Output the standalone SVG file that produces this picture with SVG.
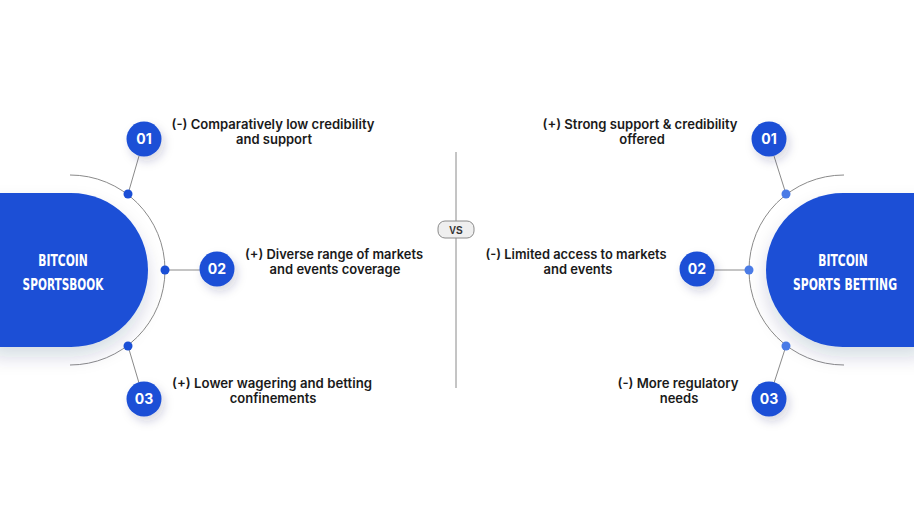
<svg xmlns="http://www.w3.org/2000/svg" width="914" height="521" viewBox="0 0 914 521">
<defs>
<filter id="sh" x="-50%" y="-50%" width="200%" height="200%">
<feDropShadow dx="3" dy="5" stdDeviation="5" flood-color="#1a2a5a" flood-opacity="0.18"/>
</filter>
<filter id="shb" x="-30%" y="-30%" width="160%" height="180%">
<feDropShadow dx="0" dy="10" stdDeviation="9" flood-color="#1a2a5a" flood-opacity="0.16"/>
</filter>
<style>
.blue{fill:#1b4fd6}
.arc{fill:none;stroke:#8a8a8a;stroke-width:1}
.conn{stroke:#8a8a8a;stroke-width:1;fill:none}
.dot{fill:#1b4fd6}
.dotr{fill:#4a7be6}
.num{font-family:Inter,"Liberation Sans",sans-serif;font-weight:700;font-size:14px;fill:#fff;text-anchor:middle}
.lbl{font-family:Inter,"Liberation Sans",sans-serif;font-weight:600;font-size:13px;fill:#1a1a1a;text-anchor:middle}
.title{font-family:"DejaVu Sans Condensed","DejaVu Sans",sans-serif;font-weight:700;font-size:16px;fill:#fff;text-anchor:middle}
.vs{font-family:"Liberation Sans",sans-serif;font-weight:700;font-size:10px;fill:#333;text-anchor:middle}
</style>
</defs>
<rect width="914" height="521" fill="#fff"/>

<g id="divider">
<line x1="456" y1="152" x2="456" y2="388" stroke="#8a8a8a" stroke-width="1"/>
<rect x="438" y="221" width="36" height="17" rx="7" fill="#efefef" stroke="#8a8a8a" stroke-width="1"/>
<text class="vs" x="456" y="233.5">VS</text>
</g>

<g id="connectors">
<path class="arc" d="M70,175 A95,95 0 0 1 70,365"/>
<path class="arc" d="M844,175 A95,95 0 0 0 844,365"/>
<line class="conn" x1="128" y1="194" x2="139" y2="156"/>
<line class="conn" x1="165" y1="270" x2="200" y2="270"/>
<line class="conn" x1="128" y1="346" x2="139" y2="383"/>
<line class="conn" x1="786" y1="194" x2="774" y2="156"/>
<line class="conn" x1="749" y1="270" x2="714" y2="270"/>
<line class="conn" x1="786" y1="346" x2="774" y2="383"/>
</g>

<g id="left-main">
<path class="blue" filter="url(#shb)" d="M-10,193 H71 A77,77 0 0 1 71,347 H-10 Z"/>
<text class="title" transform="translate(63,266) scale(0.8,1)" x="0" y="0" textLength="62" lengthAdjust="spacingAndGlyphs">BITCOIN</text>
<text class="title" transform="translate(63,290) scale(0.8,1)" x="0" y="0" textLength="101" lengthAdjust="spacingAndGlyphs">SPORTSBOOK</text>
</g>
<g id="right-main">
<path class="blue" filter="url(#shb)" d="M924,193 H843 A77,77 0 0 0 843,347 H924 Z"/>
<text class="title" transform="translate(843,266) scale(0.8,1)" x="0" y="0" textLength="62" lengthAdjust="spacingAndGlyphs">BITCOIN</text>
<text class="title" transform="translate(845,290) scale(0.8,1)" x="0" y="0" textLength="130" lengthAdjust="spacingAndGlyphs">SPORTS BETTING</text>
</g>

<g id="dots">
<circle class="dot" cx="128" cy="194" r="4.5"/>
<circle class="dot" cx="165" cy="270" r="4.5"/>
<circle class="dot" cx="128" cy="346" r="4.5"/>
<circle class="dotr" cx="786" cy="194" r="4.5"/>
<circle class="dotr" cx="749" cy="270" r="4.5"/>
<circle class="dotr" cx="786" cy="346" r="4.5"/>
</g>

<g id="l01">
<circle class="blue" filter="url(#sh)" cx="144" cy="139" r="17.5"/>
<text class="num" x="144" y="144">01</text>
<text class="lbl" x="273" y="129" textLength="203" lengthAdjust="spacingAndGlyphs">(-) Comparatively low credibility</text>
<text class="lbl" x="274" y="144">and support</text>
</g>
<g id="l02">
<circle class="blue" filter="url(#sh)" cx="217" cy="269" r="17.5"/>
<text class="num" x="217" y="274">02</text>
<text class="lbl" x="334" y="259" textLength="178" lengthAdjust="spacingAndGlyphs">(+) Diverse range of markets</text>
<text class="lbl" x="335" y="274">and events coverage</text>
</g>
<g id="l03">
<circle class="blue" filter="url(#sh)" cx="144" cy="399" r="17.5"/>
<text class="num" x="144" y="404">03</text>
<text class="lbl" x="272" y="388" textLength="200" lengthAdjust="spacingAndGlyphs">(+) Lower wagering and betting</text>
<text class="lbl" x="273" y="403">confinements</text>
</g>
<g id="r01">
<circle class="blue" filter="url(#sh)" cx="769" cy="139" r="17.5"/>
<text class="num" x="769" y="144">01</text>
<text class="lbl" x="640" y="129" textLength="195" lengthAdjust="spacingAndGlyphs">(+) Strong support &amp; credibility</text>
<text class="lbl" x="642" y="144">offered</text>
</g>
<g id="r02">
<circle class="blue" filter="url(#sh)" cx="697" cy="269" r="17.5"/>
<text class="num" x="697" y="274">02</text>
<text class="lbl" x="576" y="259" textLength="181" lengthAdjust="spacingAndGlyphs">(-) Limited access to markets</text>
<text class="lbl" x="578" y="274">and events</text>
</g>
<g id="r03">
<circle class="blue" filter="url(#sh)" cx="769" cy="399" r="17.5"/>
<text class="num" x="769" y="404">03</text>
<text class="lbl" x="678" y="388" textLength="121" lengthAdjust="spacingAndGlyphs">(-) More regulatory</text>
<text class="lbl" x="679" y="403">needs</text>
</g>
</svg>
